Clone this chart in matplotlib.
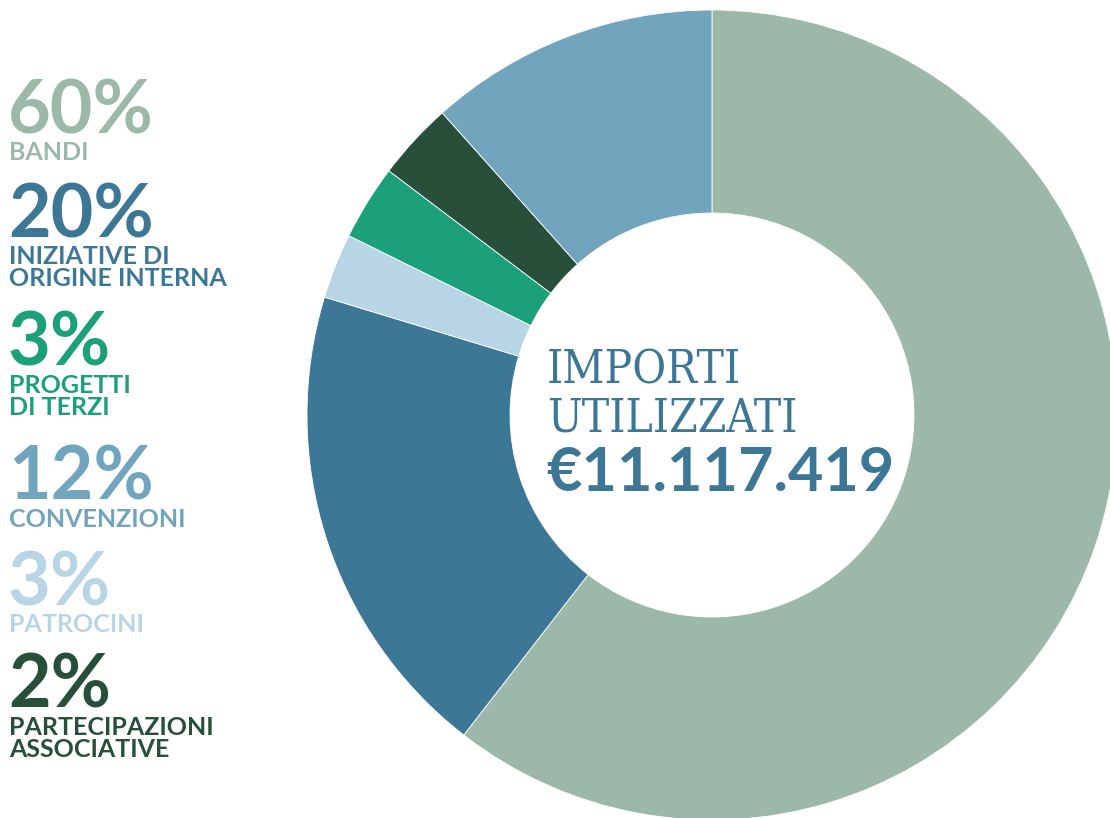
import matplotlib.pyplot as plt

# data
labels = ['BANDI', 'INIZIATIVE DI\nORIGINE INTERNA', 'PATROCINI', 'PROGETTI\nDI TERZI',
          'PARTECIPAZIONI\nASSOCIATIVE', 'CONVENZIONI']
shares = [60.5, 19.2, 2.6, 3.0, 3.1, 11.6]          # slice sizes as drawn
pct_labels = ['60%', '20%', '3%', '3%', '2%', '12%']   # percentages as printed
colors = ['#9bb8a9', '#3c7896', '#b8d5e5', '#1ba07a', '#274f3a', '#71a5be']

# order of the text column on the left (index into the lists above)
legend_order = [0, 1, 3, 5, 2, 4]

title_lines = ['IMPORTI', 'UTILIZZATI']
total = '€11.117.419'

W, H = 1110, 818
fig = plt.figure(figsize=(W / 100, H / 100), dpi=100)
ax = fig.add_axes([0, 0, 1, 1])

ax.pie(shares, colors=colors, startangle=90, counterclock=False,
       radius=405, center=(712, H - 415),
       wedgeprops=dict(width=203, edgecolor='white', linewidth=0.6))
ax.set_xlim(0, W)
ax.set_ylim(0, H)
ax.set_aspect('equal')
ax.axis('off')

# left column: big percentage + caption
pct_base = [133, 237, 366, 500, 605, 708]
for k, i in enumerate(legend_order):
    y = pct_base[k]
    ax.text(8, H - y, pct_labels[i], color=colors[i], fontsize=53, fontweight='bold',
            family='Lato', ha='left', va='baseline')
    ax.text(9, H - y - 8, labels[i], color=colors[i], fontsize=18, fontweight='bold',
            family='Lato', ha='left', va='top', linespacing=0.97)

# centre text
ax.text(547, H - 383, title_lines[0], color='#3c7896', fontsize=33,
        family='DejaVu Serif', fontstretch='condensed', ha='left', va='baseline')
ax.text(547, H - 432, title_lines[1], color='#3c7896', fontsize=33,
        family='DejaVu Serif', fontstretch='condensed', ha='left', va='baseline')
ax.text(546, H - 491, total, color='#3c7896', fontsize=44, fontweight='bold',
        family='Lato', ha='left', va='baseline')

fig.savefig('out.png', dpi=100, facecolor='white')
